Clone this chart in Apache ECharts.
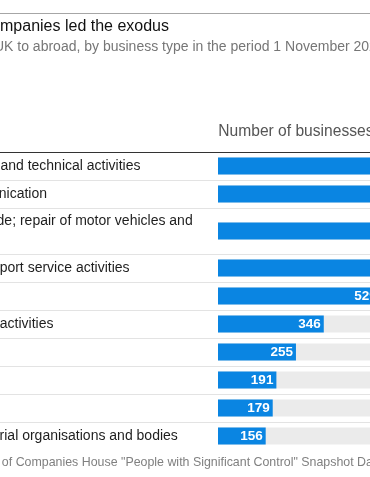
<!DOCTYPE html>
<html>
<head>
<meta charset="utf-8">
<script src="https://cdn.jsdelivr.net/npm/echarts@6/dist/echarts.min.js"></script>
<style>
  html, body { margin: 0; padding: 0; width: 370px; height: 477px; overflow: hidden; background: #fff; }
  #chart { position: absolute; left: -220px; top: 0; width: 820px; height: 477px; }
</style>
</head>
<body>
<div id="chart"></div>
<script>
// ---- data ----
const titleText = 'Professional services companies led the exodus';
const subtitleText = 'Companies moving from the UK to abroad, by business type in the period 1 November 2023 to 31 October 2024';
const axisTitle = 'Number of businesses';
const sourceText = 'Source: analysis of Companies House "People with Significant Control" Snapshot Data';
const categories = [
  'Professional, scientific and technical activities',
  'Information and communication',
  'Wholesale and retail trade; repair of motor vehicles and motorcycles',
  'Administrative and support service activities',
  'Manufacturing',
  'Financial and insurance activities',
  'Construction',
  'Education',
  'Other service activities',
  'Activities of extraterritorial organisations and bodies'
];
// first four values run past the visible crop; estimated
const values = [1180, 1010, 760, 640, 529, 346, 255, 191, 179, 156];
const xMax = 1180;

// ---- layout ----
const FONT = '"Liberation Sans", Arial, sans-serif';
const OFFX = 220;            // chart is wider than the window; the window shows a crop
const gridLeft = 218 + OFFX;
const pxPerUnit = 0.3057;
const gridWidth = xMax * pxPerUnit;
const labelLeft = OFFX - 142;
const labelNudge = [0, -6.3, -8.5, 0, 0, -10, 0, 0, 0, 0]; // font-metric compensation
const rowHeights = [28, 28, 46, 28, 28, 28, 28, 28, 28, 28];
const firstTop = 152;
const W = 820;

const grids = [], xAxes = [], yAxes = [], series = [], lines = [];
let rowTop = firstTop;
categories.forEach((cat, i) => {
  const h = rowHeights[i];
  grids.push({ left: gridLeft, top: rowTop, width: gridWidth, height: h });
  xAxes.push({ type: 'value', gridIndex: i, min: 0, max: xMax, show: false });
  yAxes.push({
    type: 'category', gridIndex: i, data: [cat],
    axisLine: { show: false }, axisTick: { show: false },
    axisLabel: {
      align: 'left', margin: gridLeft - labelLeft - labelNudge[i], color: '#1e1e1e',
      fontSize: 14, fontFamily: FONT, width: 352, overflow: 'break', lineHeight: 20
    }
  });
  series.push({
    type: 'bar', xAxisIndex: i, yAxisIndex: i, data: [values[i]],
    barWidth: 17, itemStyle: { color: '#0a85e2' },
    showBackground: true, backgroundStyle: { color: '#ebebeb' },
    label: {
      show: true, position: 'insideRight', distance: 3, color: '#fff',
      fontWeight: 'bold', fontSize: 13.5, fontFamily: FONT
    },
    silent: true
  });
  if (i > 0) {
    lines.push({ type: 'line', shape: { x1: 0, y1: rowTop + 0.5, x2: W, y2: rowTop + 0.5 },
      style: { stroke: '#e3e3e3', lineWidth: 1 }, silent: true });
  }
  rowTop += h;
});

const graphic = [
  { type: 'line', shape: { x1: 0, y1: 13.5, x2: W, y2: 13.5 }, style: { stroke: '#a6a6a6', lineWidth: 1 } },
  { type: 'line', shape: { x1: 0, y1: firstTop + 0.5, x2: W, y2: firstTop + 0.5 }, style: { stroke: '#333', lineWidth: 1 } },
  { type: 'text', x: OFFX - 172.5, y: 26.8, style: { text: titleText, font: '16px ' + FONT, fill: '#111', verticalAlign: 'middle' } },
  { type: 'text', x: OFFX - 185, y: 47.5, style: { text: subtitleText, font: '14px ' + FONT, fill: '#767676', verticalAlign: 'middle' } },
  { type: 'text', x: gridLeft + 0.3, y: 132, style: { text: axisTitle, font: '15.6px ' + FONT, fill: '#555', verticalAlign: 'middle' } },
  { type: 'text', x: OFFX + 1.7 - 94.2, y: 462.8, style: { text: sourceText, font: '12.4px ' + FONT, fill: '#808080', verticalAlign: 'middle' } }
].concat(lines);

const chart = echarts.init(document.getElementById('chart'), null, { renderer: 'canvas' });
chart.setOption({
  animation: false,
  backgroundColor: '#fff',
  grid: grids, xAxis: xAxes, yAxis: yAxes, series: series,
  graphic: graphic
});
</script>
</body>
</html>
